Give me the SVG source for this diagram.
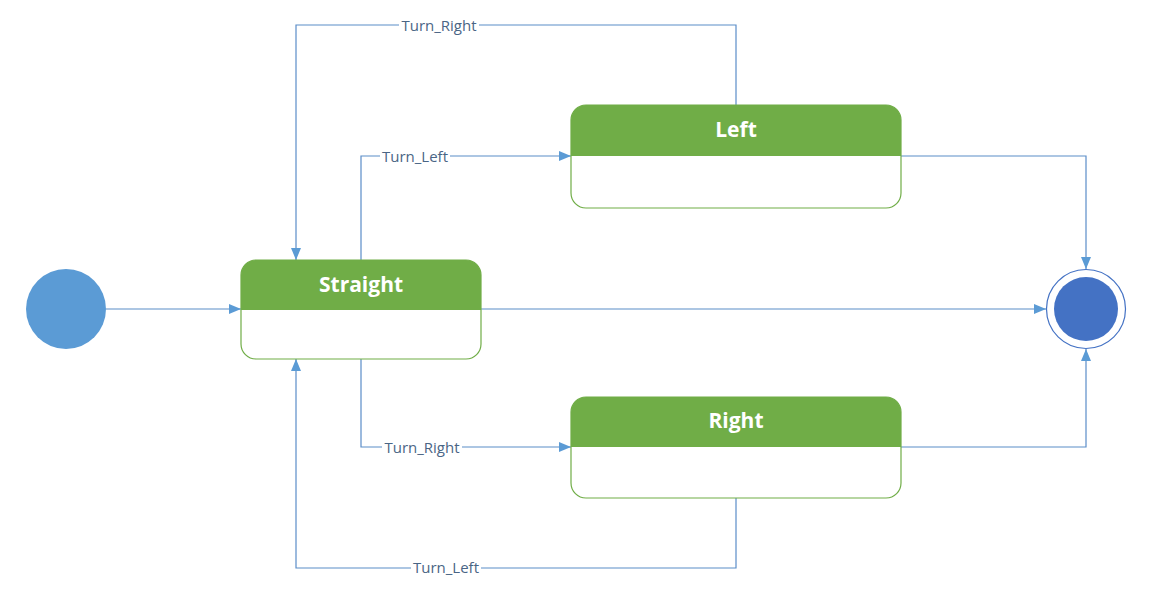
<svg xmlns="http://www.w3.org/2000/svg" width="1161" height="610" viewBox="0 0 1161 610">
<style>
.conn{fill:none;stroke:#5B8DC8;stroke-width:1.2}
.lbl{font-family:"Open Sans","Liberation Sans",sans-serif;font-size:15px;fill:#4A6585;text-anchor:middle;dominant-baseline:central}
.lblbg{fill:#ffffff}
.box{fill:#ffffff;stroke:#70AD47;stroke-width:1.2}
.hdr{fill:#70AD47}
.title{font-family:"Open Sans","Liberation Sans",sans-serif;font-size:21px;font-weight:bold;fill:#ffffff;text-anchor:middle;dominant-baseline:central}
</style>
<defs>
<marker id="arr" viewBox="0 0 12 10" refX="12" refY="5" markerWidth="12" markerHeight="10" markerUnits="userSpaceOnUse" orient="auto">
<path d="M0,0 L12,5 L0,10 Z" fill="#5B9BD5"/>
</marker>
</defs>
<rect width="1161" height="610" fill="#ffffff"/>
<g id="connectors">
<path class="conn" d="M106,309 H241" marker-end="url(#arr)"/>
<path class="conn" d="M481,309 H1046" marker-end="url(#arr)"/>
<path class="conn" d="M361,260 V156 H571" marker-end="url(#arr)"/>
<path class="conn" d="M736,105 V25 H296 V260" marker-end="url(#arr)"/>
<path class="conn" d="M901,156 H1086 V269" marker-end="url(#arr)"/>
<path class="conn" d="M361,359 V447 H571" marker-end="url(#arr)"/>
<path class="conn" d="M736,498 V568 H296 V359" marker-end="url(#arr)"/>
<path class="conn" d="M901,447 H1086 V349" marker-end="url(#arr)"/>
<rect class="lblbg" x="399" y="16" width="80" height="18"/>
<text class="lbl" x="439" y="25">Turn_Right</text>
<rect class="lblbg" x="380" y="147" width="70" height="18"/>
<text class="lbl" x="415" y="156">Turn_Left</text>
<rect class="lblbg" x="382" y="438" width="80" height="18"/>
<text class="lbl" x="422" y="447">Turn_Right</text>
<rect class="lblbg" x="411" y="559" width="70" height="18"/>
<text class="lbl" x="446" y="567">Turn_Left</text>
</g>
<g id="initial">
<circle cx="66" cy="309" r="40" fill="#5B9BD5"/>
</g>
<g id="straight">
<rect class="box" x="241" y="260" width="240" height="99" rx="15"/>
<path class="hdr" d="M241,310 V275 A15,15 0 0 1 256,260 H466 A15,15 0 0 1 481,275 V310 Z"/>
<text class="title" x="361" y="284">Straight</text>
</g>
<g id="left">
<rect class="box" x="571" y="105" width="330" height="103" rx="15"/>
<path class="hdr" d="M571,156 V120 A15,15 0 0 1 586,105 H886 A15,15 0 0 1 901,120 V156 Z"/>
<text class="title" x="736" y="129">Left</text>
</g>
<g id="right">
<rect class="box" x="571" y="397" width="330" height="101" rx="15"/>
<path class="hdr" d="M571,447 V412 A15,15 0 0 1 586,397 H886 A15,15 0 0 1 901,412 V447 Z"/>
<text class="title" x="736" y="420">Right</text>
</g>
<g id="final">
<circle cx="1086" cy="309" r="39.5" fill="#ffffff" stroke="#4472C4" stroke-width="1.2"/>
<circle cx="1086" cy="309" r="32" fill="#4472C4"/>
</g>
</svg>
